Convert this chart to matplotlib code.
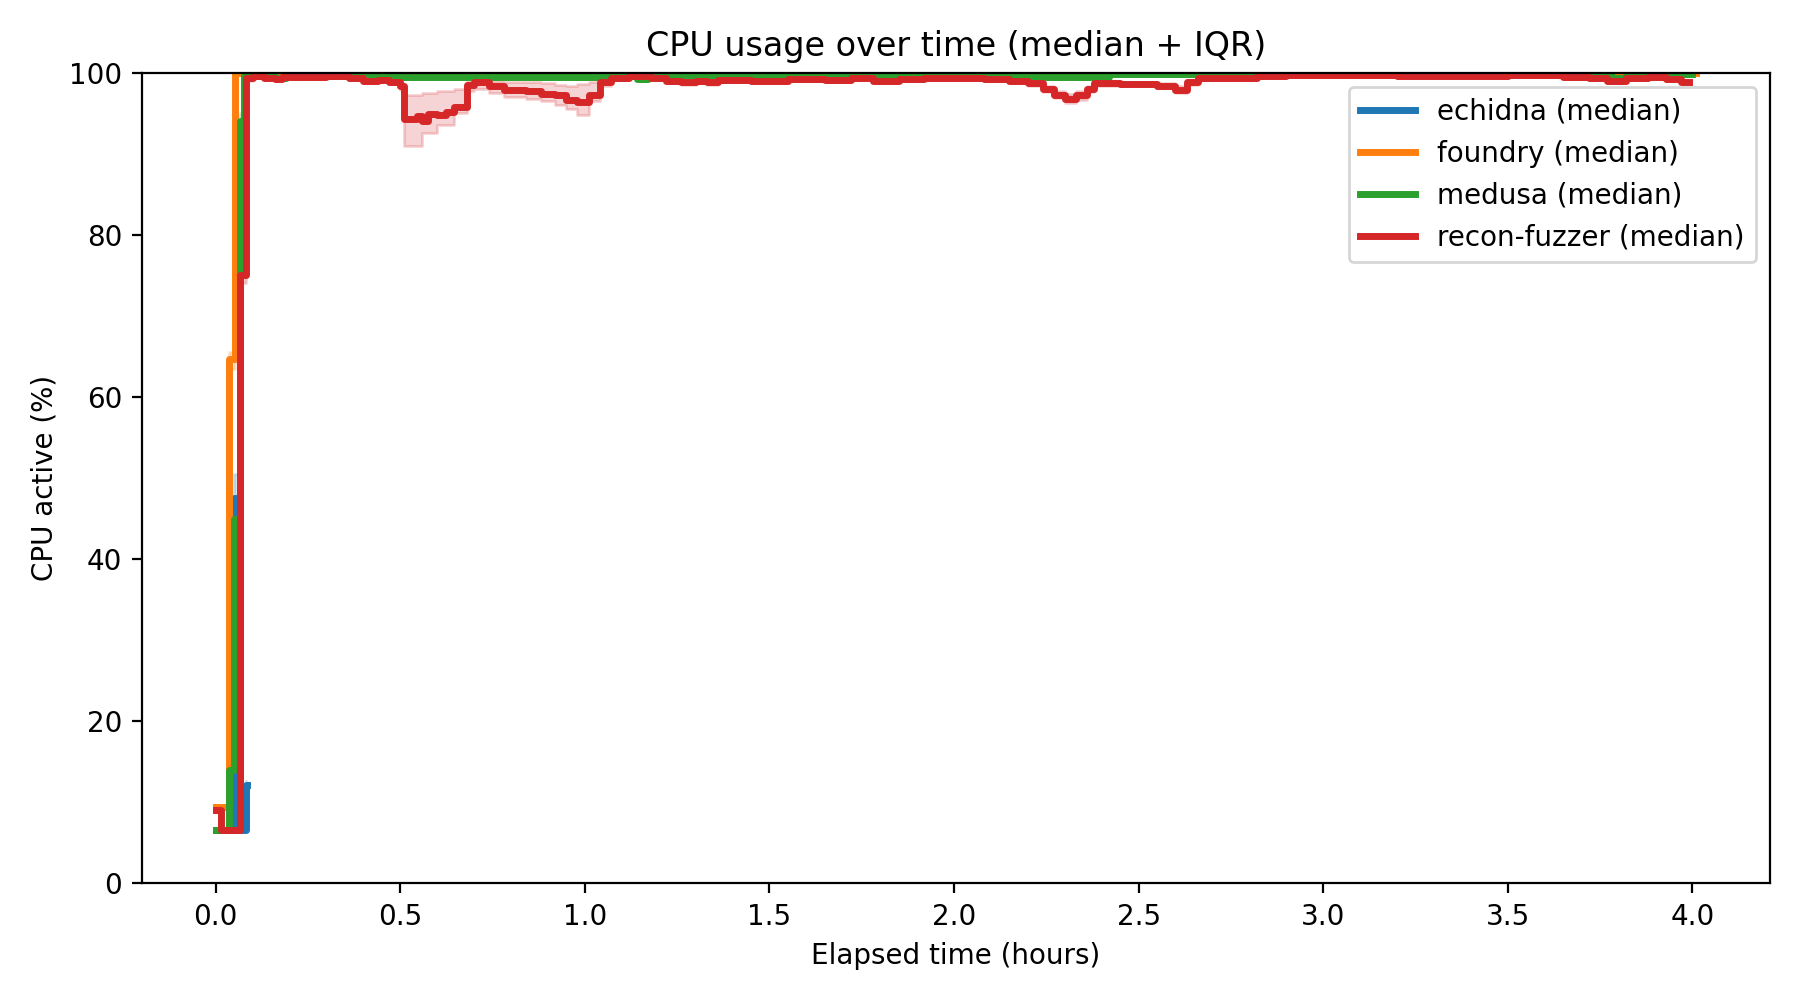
import numpy as np
import matplotlib
matplotlib.use("Agg")
import matplotlib.pyplot as plt

# -----------------------------
# DATA (hours, CPU %)
# -----------------------------
echidna_t = [0.0, 0.050, 0.065, 0.083, 0.086, 0.12, 4.0]
echidna_med = [6.6, 47.5, 6.6, 12.2, np.nan, 100.0, 100.0]
echidna_q1 = [6.4, 44.0, 6.4, 11.8, np.nan, 99.9, 99.9]
echidna_q3 = [6.8, 50.5, 6.8, 12.6, np.nan, 100.0, 100.0]

foundry_t = [0.0, 0.035, 0.051, 4.01]
foundry_med = [9.4, 64.7, 100.0, 100.0]
foundry_q1 = [9.2, 63.5, 99.9, 99.9]
foundry_q3 = [9.6, 65.5, 100.0, 100.0]

medusa_t = [0.0, 0.035, 0.050, 0.065, 0.076, 0.16, 0.19, 0.40, 1.10,
            1.14, 1.17, 2.18, 2.42, 3.78, 3.82, 4.0]
medusa_med = [6.6, 14.0, 45.0, 94.0, 99.6, 99.3, 99.6, 99.5, 99.6,
              99.2, 99.7, 99.5, 99.8, 99.4, 99.8, 99.8]
medusa_q1 = [6.4, 13.5, 44.0, 93.0, 99.4, 99.1, 99.4, 99.3, 99.4,
             99.0, 99.5, 99.3, 99.6, 99.2, 99.6, 99.6]
medusa_q3 = [6.8, 14.5, 46.0, 95.0, 99.8, 99.5, 99.8, 99.7, 99.8,
             99.4, 99.9, 99.7, 100.0, 99.6, 100.0, 100.0]

recon_t = [0.0, 0.015, 0.065, 0.083, 0.10, 0.13, 0.16, 0.18, 0.30, 0.36,
           0.40, 0.44, 0.47, 0.50, 0.51, 0.545, 0.56, 0.575, 0.60, 0.625,
           0.645, 0.68, 0.70, 0.74, 0.78, 0.84, 0.88, 0.92, 0.95, 0.98,
           1.01, 1.04, 1.07, 1.12, 1.18, 1.22, 1.26, 1.30, 1.33, 1.36,
           1.45, 1.55, 1.65, 1.72, 1.78, 1.85, 1.92, 2.00, 2.08, 2.15,
           2.20, 2.24, 2.27, 2.30, 2.33, 2.36, 2.38, 2.45, 2.55, 2.60,
           2.63, 2.66, 2.75, 2.82, 2.90, 3.20, 3.50, 3.65, 3.72, 3.77,
           3.82, 3.88, 3.93, 3.97, 3.99]
recon_med = [9.0, 6.6, 75.0, 99.3, 99.6, 99.4, 99.2, 99.5, 99.6, 99.4,
             99.0, 99.1, 98.9, 98.3, 94.3, 94.6, 94.0, 94.9, 94.8, 95.2,
             95.8, 98.5, 98.8, 98.4, 97.9, 97.7, 97.4, 97.3, 96.6, 96.4,
             97.3, 98.8, 99.4, 99.6, 99.3, 99.0, 98.8, 99.0, 98.8, 99.1,
             99.0, 99.2, 99.1, 99.3, 99.0, 99.2, 99.3, 99.4, 99.2, 99.0,
             98.7, 98.0, 97.3, 96.8, 97.2, 98.0, 98.7, 98.6, 98.4, 97.9,
             98.8, 99.3, 99.4, 99.6, 99.7, 99.6, 99.7, 99.5, 99.3, 99.0,
             99.3, 99.5, 99.2, 98.9, 98.9]
recon_q1 = [8.8, 6.4, 74.0, 99.0, 99.4, 99.2, 99.0, 99.3, 99.4, 99.2,
            98.8, 98.9, 98.6, 97.9, 91.0, 91.0, 92.5, 92.5, 93.5, 93.5,
            95.0, 97.8, 98.0, 97.5, 97.0, 96.8, 96.5, 96.0, 95.5, 94.8,
            96.5, 98.3, 99.1, 99.4, 99.1, 98.7, 98.5, 98.7, 98.5, 98.9,
            98.8, 99.0, 98.9, 99.1, 98.8, 99.0, 99.1, 99.2, 99.0, 98.8,
            98.4, 97.6, 96.9, 96.2, 96.6, 97.6, 98.4, 98.3, 98.1, 97.5,
            98.5, 99.1, 99.2, 99.4, 99.5, 99.4, 99.5, 99.3, 99.1, 98.8,
            99.1, 99.3, 99.0, 98.7, 98.7]
recon_q3 = [9.2, 6.8, 76.0, 99.6, 99.8, 99.6, 99.5, 99.7, 99.8, 99.6,
            99.3, 99.3, 99.2, 98.7, 97.3, 97.3, 97.5, 97.5, 97.7, 97.7,
            98.0, 99.0, 99.2, 99.0, 98.8, 98.8, 98.7, 98.5, 98.3, 98.6,
            98.8, 99.2, 99.6, 99.8, 99.5, 99.3, 99.1, 99.3, 99.1, 99.3,
            99.2, 99.4, 99.3, 99.5, 99.2, 99.4, 99.5, 99.6, 99.4, 99.2,
            99.0, 98.4, 97.7, 97.4, 97.8, 98.4, 99.0, 98.9, 98.7, 98.3,
            99.1, 99.5, 99.6, 99.8, 99.9, 99.8, 99.9, 99.7, 99.5, 99.2,
            99.5, 99.7, 99.4, 99.1, 99.1]

series = [
    ("echidna", "tab:blue", echidna_t, echidna_med, echidna_q1, echidna_q3),
    ("foundry", "tab:orange", foundry_t, foundry_med, foundry_q1, foundry_q3),
    ("medusa", "tab:green", medusa_t, medusa_med, medusa_q1, medusa_q3),
    ("recon-fuzzer", "tab:red", recon_t, recon_med, recon_q1, recon_q3),
]

# -----------------------------
# PLOT
# -----------------------------
fig, ax = plt.subplots(figsize=(9, 5), dpi=200)

for name, color, t, med, q1, q3 in series:
    t = np.asarray(t, dtype=float)
    ax.fill_between(t, np.asarray(q1, dtype=float), np.asarray(q3, dtype=float),
                    step="post", color=color, alpha=0.2)
    ax.plot(t, np.asarray(med, dtype=float), drawstyle="steps-post",
            color=color, linewidth=2.5, label=f"{name} (median)")

ax.set_ylim(0, 100)
ax.set_title("CPU usage over time (median + IQR)")
ax.set_xlabel("Elapsed time (hours)")
ax.set_ylabel("CPU active (%)")
ax.legend(loc="upper right")

plt.tight_layout()
plt.savefig("out.png")
